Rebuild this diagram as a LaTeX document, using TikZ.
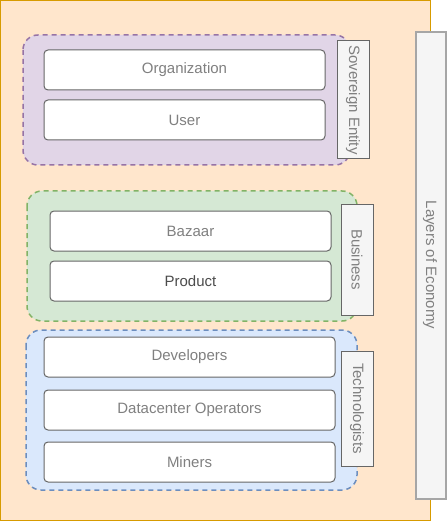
\documentclass[tikz,border=0pt]{standalone}
\usepackage{fontspec}
\setmainfont{Liberation Sans}
\begin{document}
\begin{tikzpicture}[x=1pt,y=-1pt,
  grp/.style={draw, dashed, dash pattern=on 5pt off 4pt, line width=1.5pt, rounded corners=15pt},
  item/.style={draw=black!60, fill=white, rounded corners=4pt, line width=1pt},
  lbl/.style={draw=black!60, fill=black!4, line width=1pt},
  tx/.style={text=black!50, font=\fontsize{15}{18}\selectfont},
  vtx/.style={tx, rotate=-90}]
\useasboundingbox (0,0) rectangle (447,521);
\draw[fill={rgb,255:red,255;green,230;blue,204}, draw={rgb,255:red,215;green,155;blue,0}, line width=1pt] (0.5,0.5) rectangle (430,520);
% Layers of Economy
\draw[fill=black!4, draw=black!35, line width=1.2pt] (416,32) rectangle (446,499);
\node[vtx] (loe) at (430,265) {Layers of Economy};
% Sovereign group
\draw[grp, fill={rgb,255:red,225;green,213;blue,231}, draw={rgb,255:red,150;green,115;blue,166}] (23,35) rectangle (350,165);
\draw[item] (44,50) rectangle (325,90) node[midway, tx] (org) {Organization};
\draw[item] (44,100) rectangle (325,140) node[midway, tx] (user) {User};
\draw[lbl] (337,41) rectangle (369,159);
\node[vtx] (se) at (353,100) {Sovereign Entity};
% Business group
\draw[grp, fill={rgb,255:red,213;green,232;blue,212}, draw={rgb,255:red,130;green,179;blue,102}] (27,191) rectangle (357,321);
\draw[item] (50,211) rectangle (331,251) node[midway, tx] (baz) {Bazaar};
\draw[item] (50,261) rectangle (331,301) node[midway, tx, text=black!70] (prod) {Product};
\draw[lbl] (341,204) rectangle (373,315);
\node[vtx] (bus) at (357,259.5) {Business};
% Technologists group
\draw[grp, fill={rgb,255:red,218;green,232;blue,252}, draw={rgb,255:red,108;green,142;blue,191}] (26,330) rectangle (357,490);
\draw[item] (44,337) rectangle (335,377) node[midway, tx] (dev) {Developers};
\draw[item] (44,390) rectangle (335,430) node[midway, tx] (dco) {Datacenter Operators};
\draw[item] (44,442) rectangle (335,482) node[midway, tx] (min) {Miners};
\draw[lbl] (341,351) rectangle (373,466);
\node[vtx] (tech) at (357,408.5) {Technologists};
\end{tikzpicture}
\end{document}
